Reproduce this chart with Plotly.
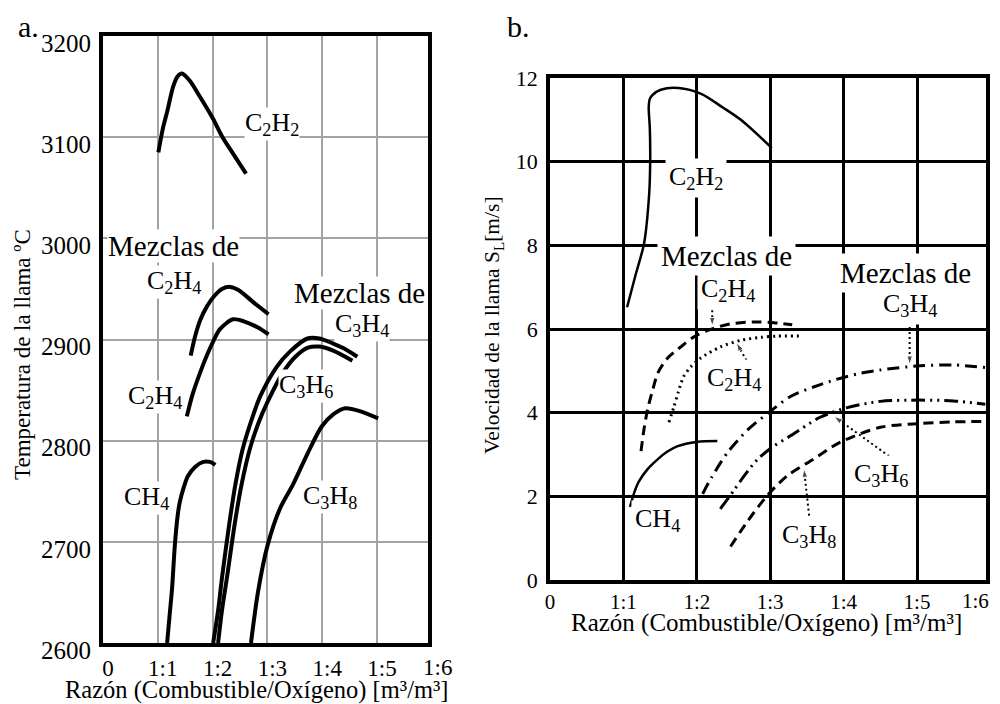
import plotly.graph_objects as go

SERIF = "Liberation Serif"

# ---------------- Panel a: flame temperature ----------------
ratio_ticks = [0, 1, 2, 3, 4, 5]
ratio_labels = ["0", "1:1", "1:2", "1:3", "1:4", "1:5"]
ratio_end_label = "1:6"
temp_ticks = [2600, 2700, 2800, 2900, 3000, 3100, 3200]

a_c2h2_x = [1.01, 1.09, 1.17, 1.28, 1.36, 1.44, 1.58, 1.78, 2.01, 2.17, 2.37, 2.61]
a_c2h2_t = [3085, 3108, 3125, 3150, 3160, 3163, 3156, 3139, 3118, 3101, 3084, 3064]

a_mix_c2h4_x = [1.6, 1.68, 1.78, 1.9, 2.03, 2.17, 2.32, 2.47, 2.74, 3.02]
a_mix_c2h4_t = [2884, 2903, 2920, 2933, 2943, 2950, 2952, 2949, 2937, 2925]

a_c2h4_x = [1.53, 1.63, 1.77, 1.9, 2.01, 2.13, 2.37, 2.57, 2.82, 3.02]
a_c2h4_t = [2824, 2845, 2867, 2885, 2898, 2910, 2920, 2918, 2912, 2905]

a_ch4_x = [1.17, 1.22, 1.26, 1.31, 1.36, 1.4, 1.48, 1.55, 1.68, 1.83, 1.95, 2.05]
a_ch4_t = [2600, 2630, 2654, 2696, 2725, 2739, 2755, 2765, 2774, 2779, 2779, 2776]

a_mix_c3h4_x = [2.01, 2.1, 2.17, 2.31, 2.42, 2.55, 2.72, 2.87, 3.17, 3.41, 3.73, 3.95, 4.2, 4.4, 4.64]
a_mix_c3h4_t = [2600, 2632, 2664, 2720, 2758, 2792, 2822, 2844, 2873, 2888, 2901, 2901, 2896, 2891, 2883]

a_c3h6_x = [2.1, 2.17, 2.26, 2.41, 2.53, 2.68, 2.84, 3.0, 3.28, 3.51, 3.74, 3.95, 4.2, 4.55]
a_c3h6_t = [2600, 2632, 2664, 2720, 2757, 2792, 2818, 2838, 2867, 2883, 2892, 2893, 2889, 2879]

a_c3h8_x = [2.7, 2.83, 3.0, 3.23, 3.47, 3.73, 3.99, 4.2, 4.42, 4.7, 5.02]
a_c3h8_t = [2600, 2651, 2696, 2733, 2757, 2787, 2814, 2826, 2832, 2829, 2822]

# ---------------- Panel b: flame speed ----------------
speed_ticks = [0, 2, 4, 6, 8, 10, 12]

b_c2h2_x = [1.05, 1.17, 1.28, 1.35, 1.365, 1.36, 1.345, 1.36, 1.40, 1.51, 1.75, 2.06, 2.35, 2.6, 3.02]
b_c2h2_v = [6.52, 7.32, 8.03, 9.2, 10.0, 10.8, 11.3, 11.5, 11.6, 11.72, 11.76, 11.62, 11.3, 11.0, 10.33]

b_ch4_x = [1.09, 1.15, 1.21, 1.33, 1.47, 1.6, 1.74, 2.0, 2.28]
b_ch4_v = [1.75, 2.1, 2.35, 2.65, 2.89, 3.07, 3.2, 3.3, 3.32]

b_mix_c2h4_x = [1.24, 1.28, 1.33, 1.4, 1.47, 1.6, 1.78, 1.95, 2.15, 2.45, 2.8, 3.05, 3.3]
b_mix_c2h4_v = [3.08, 3.6, 4.08, 4.55, 4.95, 5.3, 5.57, 5.8, 5.97, 6.12, 6.17, 6.15, 6.1]

b_c2h4_x = [1.62, 1.69, 1.75, 1.82, 1.92, 2.05, 2.32, 2.6, 2.87, 3.1, 3.42]
b_c2h4_v = [3.77, 4.15, 4.5, 4.86, 5.1, 5.3, 5.57, 5.73, 5.8, 5.83, 5.83]

b_mix_c3h4_x = [2.08, 2.2, 2.42, 2.7, 3.0, 3.27, 3.6, 3.89, 4.2, 4.5, 5.04, 5.5, 5.93]
b_mix_c3h4_v = [2.06, 2.45, 3.05, 3.6, 4.03, 4.38, 4.62, 4.79, 4.93, 5.02, 5.12, 5.14, 5.08]

b_c3h6_x = [2.32, 2.5, 2.65, 2.83, 3.05, 3.27, 3.68, 4.05, 4.5, 5.04, 5.5, 5.93]
b_c3h6_v = [1.7, 2.13, 2.5, 2.89, 3.2, 3.44, 3.89, 4.12, 4.27, 4.3, 4.28, 4.2]

b_c3h8_x = [2.46, 2.69, 2.96, 3.23, 3.59, 3.95, 4.5, 5.04, 5.5, 5.93]
b_c3h8_v = [0.8, 1.4, 2.02, 2.49, 2.89, 3.29, 3.65, 3.74, 3.78, 3.79]

# dotted pointer arrows (start, end) in panel b
arrow_x = [[2.21, 2.21], [2.71, 2.54], [4.9, 4.9], [4.62, 3.87], [3.53, 3.46]]
arrow_v = [[6.45, 6.07], [5.15, 5.67], [6.17, 5.15], [2.96, 3.91], [1.54, 2.66]]

# page geometry: the page body has an 8px margin around the figure
OFF = 8
W, H = 1000 - OFF, 704 - OFF

def fx(px):
    return (px - OFF) / W

def fy(py):
    return 1 - (py - OFF) / H

fig = go.Figure()

def curve(x, y, xa, ya, width, dash="solid"):
    fig.add_trace(go.Scatter(
        x=x, y=y, xaxis=xa, yaxis=ya, mode="lines",
        line=dict(color="black", width=width, dash=dash, shape="spline", smoothing=0.8),
        showlegend=False, hoverinfo="skip"))

for xs, ys in [(a_c2h2_x, a_c2h2_t), (a_mix_c2h4_x, a_mix_c2h4_t), (a_c2h4_x, a_c2h4_t),
               (a_ch4_x, a_ch4_t), (a_mix_c3h4_x, a_mix_c3h4_t), (a_c3h6_x, a_c3h6_t),
               (a_c3h8_x, a_c3h8_t)]:
    curve(xs, ys, "x", "y", 4)

curve(b_c2h2_x, b_c2h2_v, "x2", "y2", 2.5)
curve(b_ch4_x, b_ch4_v, "x2", "y2", 2.5)
curve(b_mix_c2h4_x, b_mix_c2h4_v, "x2", "y2", 3, "10px,6px")
curve(b_c2h4_x, b_c2h4_v, "x2", "y2", 3, "2px,4px")
curve(b_mix_c3h4_x, b_mix_c3h4_v, "x2", "y2", 3, "12px,6px,2px,6px")
curve(b_c3h6_x, b_c3h6_v, "x2", "y2", 3, "14px,5px,2px,5px,2px,5px")
curve(b_c3h8_x, b_c3h8_v, "x2", "y2", 3, "10px,6px")

for ax_, av_ in zip(arrow_x, arrow_v):
    fig.add_trace(go.Scatter(
        x=ax_, y=av_, xaxis="x2", yaxis="y2", mode="lines+markers",
        line=dict(color="black", width=2, dash="2px,3px"),
        marker=dict(symbol="arrow", size=[0, 9], angleref="previous", color="black"),
        showlegend=False, hoverinfo="skip"))

# ---------------- labels ----------------
FORM = 26
MIX = 29
a_labels = [
    ("C<sub>2</sub>H<sub>2</sub>", 3.08, 3113, FORM),
    ("Mezclas de", 1.29, 2992, MIX),
    ("C<sub>2</sub>H<sub>4</sub>", 1.29, 2957, FORM),
    ("Mezclas de", 4.68, 2946, MIX),
    ("C<sub>3</sub>H<sub>4</sub>", 4.72, 2914, FORM),
    ("C<sub>2</sub>H<sub>4</sub>", 0.95, 2843, FORM),
    ("C<sub>3</sub>H<sub>6</sub>", 3.71, 2854, FORM),
    ("CH<sub>4</sub>", 0.8, 2743, FORM),
    ("C<sub>3</sub>H<sub>8</sub>", 4.14, 2744, FORM),
]
b_labels = [
    ("C<sub>2</sub>H<sub>2</sub>", 1.99, 9.6, FORM),
    ("Mezclas de", 2.41, 7.75, MIX),
    ("C<sub>2</sub>H<sub>4</sub>", 2.43, 6.93, FORM),
    ("Mezclas de", 4.84, 7.35, MIX),
    ("C<sub>3</sub>H<sub>4</sub>", 4.90, 6.58, FORM),
    ("C<sub>2</sub>H<sub>4</sub>", 2.51, 4.8, FORM),
    ("C<sub>3</sub>H<sub>6</sub>", 4.51, 2.5, FORM),
    ("C<sub>3</sub>H<sub>8</sub>", 3.53, 1.05, FORM),
    ("CH<sub>4</sub>", 1.47, 1.43, FORM),
]
annotations = []
for t, x, y, s in a_labels:
    annotations.append(dict(text=t, x=x, y=y, xref="x", yref="y", showarrow=False,
                            xanchor="center", yanchor="middle",
                            font=dict(family=SERIF, size=s, color="black"),
                            bgcolor="white", borderpad=0))
for t, x, y, s in b_labels:
    annotations.append(dict(text=t, x=x, y=y, xref="x2", yref="y2", showarrow=False,
                            xanchor="center", yanchor="middle",
                            font=dict(family=SERIF, size=s, color="black"),
                            bgcolor="white", borderpad=3))

def paper(text, px, py, size, angle=0, yanchor="middle", xanchor="center"):
    annotations.append(dict(text=text, x=fx(px), y=fy(py), xref="paper", yref="paper",
                            showarrow=False, textangle=angle,
                            xanchor=xanchor, yanchor=yanchor,
                            font=dict(family=SERIF, size=size, color="black")))

paper("a.", 28, 8, 30, yanchor="top")
paper("b.", 518, 8, 30, yanchor="top")
paper("Temperatura de la llama ºC", 22, 355, 23, -90)
paper("Velocidad de la llama S<sub>L</sub>[m/s]", 493, 325, 21.5, -90)
paper("Razón (Combustible/Oxígeno) [m³/m³]", 257, 690, 24.5)
paper("Razón (Combustible/Oxígeno) [m³/m³]", 766, 623, 25)
# end-of-axis tick labels that sit at the frame edge
paper(ratio_end_label, 437, 667, 23)
paper(ratio_end_label, 991, 601, 21, xanchor="right")

common = dict(showline=True, linecolor="black", mirror=True, zeroline=False, ticks="",
              showgrid=True, fixedrange=True, automargin=False, ticklabeloverflow="allow")

fig.update_layout(
    width=W, height=H, autosize=False,
    margin=dict(l=0, r=0, t=0, b=0),
    paper_bgcolor="white", plot_bgcolor="white",
    showlegend=False,
    annotations=annotations,
    xaxis=dict(domain=[fx(103), fx(428)], range=[0, 5.93], anchor="y",
               tickvals=ratio_ticks, ticktext=ratio_labels,
               gridcolor="#a3a3a3", gridwidth=2, linewidth=4,
               tickfont=dict(family=SERIF, size=23, color="black"),
               ticklabelshift=5, ticklabelstandoff=1, **common),
    yaxis=dict(domain=[fy(643), fy(36)], range=[2600, 3200], anchor="x",
               tickvals=temp_ticks, ticktext=[str(v) for v in temp_ticks],
               gridcolor="#a3a3a3", gridwidth=2, linewidth=4,
               tickfont=dict(family=SERIF, size=25, color="black"),
               ticklabelshift=7, ticklabelstandoff=3, **common),
    xaxis2=dict(domain=[fx(550), fx(986)], range=[0, 5.94], anchor="y2",
                tickvals=ratio_ticks, ticktext=ratio_labels,
                gridcolor="black", gridwidth=2.5, linewidth=3.5,
                tickfont=dict(family=SERIF, size=21, color="black"),
                ticklabelstandoff=0, **common),
    yaxis2=dict(domain=[fy(580), fy(78)], range=[0, 12], anchor="x2",
                tickvals=speed_ticks, ticktext=[str(v) for v in speed_ticks],
                gridcolor="black", gridwidth=2.5, linewidth=3.5,
                tickfont=dict(family=SERIF, size=22, color="black"),
                ticklabelstandoff=4, **common),
)

fig.write_html("out.html")
